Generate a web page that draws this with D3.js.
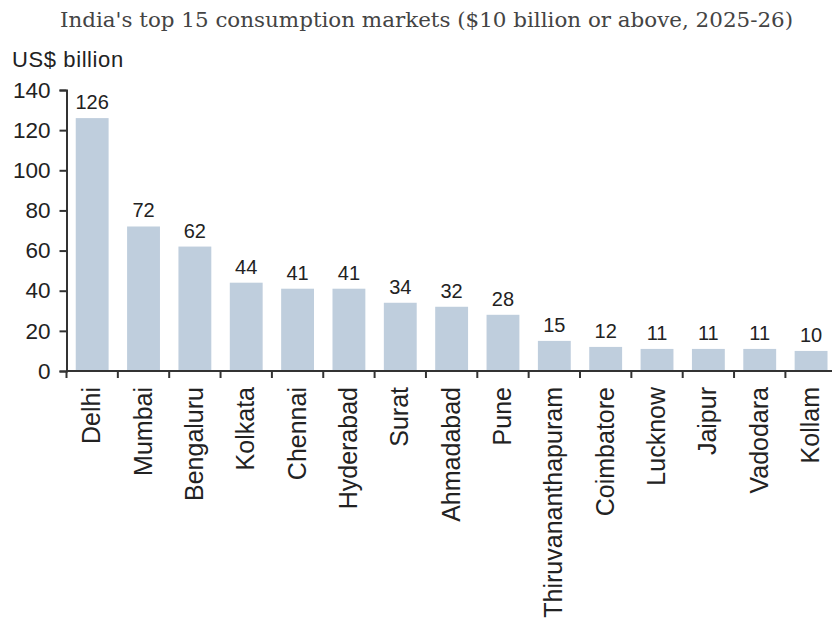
<!DOCTYPE html>
<html>
<head>
<meta charset="utf-8">
<script src="https://cdn.jsdelivr.net/npm/d3@7"></script>
<style>
  body { margin: 0; background: #fff; }
  svg { display: block; }
</style>
</head>
<body>
<svg id="chart" width="832" height="621"></svg>
<script>
// Consumption market size by city, US$ billion
const cities = ["Delhi", "Mumbai", "Bengaluru", "Kolkata", "Chennai", "Hyderabad", "Surat",
  "Ahmadabad", "Pune", "Thiruvananthapuram", "Coimbatore", "Lucknow", "Jaipur", "Vadodara", "Kollam"];
const values = [126, 72, 62, 44, 41, 41, 34, 32, 28, 15, 12, 11, 11, 11, 10];
const yTicks = [0, 20, 40, 60, 80, 100, 120, 140];

const svg = d3.select("#chart");
const sans = "'Liberation Sans', Arial, sans-serif";

const x0 = 66.5, y0 = 371, yTop = 90;
const step = 51.35;

const x = d3.scaleBand()
  .domain(cities)
  .range([x0, x0 + step * cities.length])
  .paddingInner(0.36)
  .paddingOuter(0.18);

const y = d3.scaleLinear().domain([0, 140]).range([y0, yTop]);

// title
svg.append("text")
  .attr("x", 426.5).attr("y", 27)
  .attr("text-anchor", "middle")
  .attr("font-family", "'DejaVu Serif', 'Liberation Serif', serif")
  .attr("font-size", 20.5)
  .attr("font-weight", 300)
  .attr("fill", "#444")
  .attr("textLength", 733)
  .attr("lengthAdjust", "spacingAndGlyphs")
  .text("India's top 15 consumption markets ($10 billion or above, 2025-26)");

// unit label
svg.append("text")
  .attr("x", 12).attr("y", 67)
  .attr("font-family", sans)
  .attr("font-size", 22)
  .attr("letter-spacing", 0.6)
  .attr("fill", "#222")
  .text("US$ billion");

// bars
svg.append("g").selectAll("rect")
  .data(values)
  .join("rect")
  .attr("x", (d, i) => x(cities[i]))
  .attr("y", d => y(d))
  .attr("width", x.bandwidth())
  .attr("height", d => y(0) - y(d))
  .attr("fill", "#bfcedd");

// value labels
svg.append("g").selectAll("text")
  .data(values)
  .join("text")
  .attr("x", (d, i) => x(cities[i]) + x.bandwidth() / 2)
  .attr("y", d => y(d) - 9)
  .attr("text-anchor", "middle")
  .attr("font-family", sans)
  .attr("font-size", 20)
  .attr("fill", "#222")
  .text(d => d);

// y axis
const yAxis = svg.append("g")
  .attr("transform", `translate(${x0},0)`)
  .call(d3.axisLeft(y).tickValues(yTicks).tickSize(7).tickPadding(9));
yAxis.select(".domain").attr("stroke", "#333").attr("stroke-width", 2);
yAxis.selectAll(".tick line").attr("stroke", "#333").attr("stroke-width", 2);
yAxis.selectAll(".tick text")
  .attr("font-family", sans).attr("font-size", 22.5).attr("fill", "#222");

// x axis with ticks at category boundaries
const xAxisG = svg.append("g").attr("transform", `translate(0,${y0})`);
xAxisG.append("line")
  .attr("x1", x0).attr("x2", x0 + step * cities.length)
  .attr("stroke", "#333").attr("stroke-width", 2);
xAxisG.selectAll("line.bound")
  .data(d3.range(cities.length + 1))
  .join("line")
  .attr("class", "bound")
  .attr("x1", i => x0 + i * step).attr("x2", i => x0 + i * step)
  .attr("y1", 0).attr("y2", 7)
  .attr("stroke", "#333").attr("stroke-width", 2);

// category labels, rotated
svg.append("g").selectAll("text")
  .data(cities)
  .join("text")
  .attr("transform", d => `translate(${x(d) + x.bandwidth() / 2 + 8},${y0 + 16}) rotate(-90)`)
  .attr("text-anchor", "end")
  .attr("font-family", sans)
  .attr("font-size", 25)
  .attr("fill", "#222")
  .text(d => d);
</script>
</body>
</html>
